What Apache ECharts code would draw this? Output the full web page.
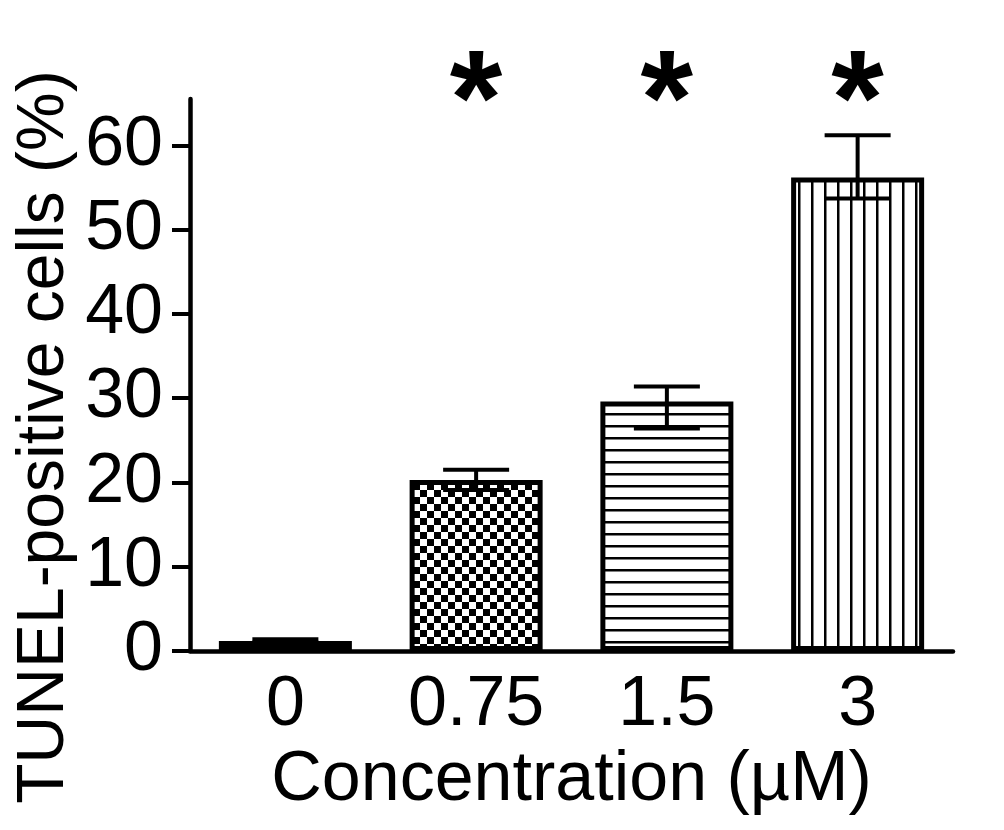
<!DOCTYPE html>
<html>
<head>
<meta charset="utf-8">
<script src="https://cdn.jsdelivr.net/npm/echarts@6/dist/echarts.min.js"></script>
<style>
html,body{margin:0;padding:0;background:#fff;}
#chart{width:1004px;height:830px;}
</style>
</head>
<body>
<div id="chart"></div>
<script>
// ---- data ----
const categories = ['0', '0.75', '1.5', '3'];
const means      = [1.2, 20.3, 29.6, 56.2];
const errLow     = [1.0, 19.1, 26.4, 53.7];
const errHigh    = [1.4, 21.5, 31.4, 61.2];
const marks      = ['', '*', '*', '*'];
const yTicks     = [0, 10, 20, 30, 40, 50, 60];
const yMax = 65.5;

// ---- fill patterns ----
function makePattern(kind) {
  const c = document.createElement('canvas');
  const ctx = c.getContext('2d');
  if (kind === 'checker') {
    c.width = 14; c.height = 14;
    ctx.fillStyle = '#fff'; ctx.fillRect(0, 0, 14, 14);
    ctx.fillStyle = '#000';
    ctx.fillRect(0, 0, 7, 7); ctx.fillRect(7, 7, 7, 7);
  } else if (kind === 'hlines') {
    c.width = 12; c.height = 12;
    ctx.fillStyle = '#fff'; ctx.fillRect(0, 0, 12, 12);
    ctx.fillStyle = '#000'; ctx.fillRect(0, 5, 12, 2.5);
  } else if (kind === 'vlines') {
    c.width = 13; c.height = 13;
    ctx.fillStyle = '#fff'; ctx.fillRect(0, 0, 13, 13);
    ctx.fillStyle = '#000'; ctx.fillRect(5, 0, 2.5, 13);
  } else {
    c.width = 20; c.height = 8;
    ctx.fillStyle = '#fff'; ctx.fillRect(0, 0, 20, 8);
    ctx.fillStyle = '#888'; ctx.fillRect(2, 3, 12, 2);
  }
  return { image: c, repeat: 'repeat' };
}
const patterns = [makePattern('dash'), makePattern('checker'), makePattern('hlines'), makePattern('vlines')];

const FONT = 'Liberation Sans, Arial, sans-serif';
const chart = echarts.init(document.getElementById('chart'), null, { renderer: 'canvas' });

chart.setOption({
  backgroundColor: '#fff',
  animation: false,
  grid: { left: 190, right: 51, top: 99, bottom: 179, containLabel: false },
  xAxis: {
    type: 'category',
    data: categories,
    boundaryGap: true,
    name: 'Concentration (µM)',
    nameLocation: 'middle',
    nameGap: 82,
    nameTextStyle: { fontFamily: FONT, fontSize: 70, color: '#000' },
    axisLine: { lineStyle: { color: '#000', width: 4.5 } },
    axisTick: { alignWithLabel: true, length: 18, lineStyle: { color: '#000', width: 4 } },
    axisLabel: { fontFamily: FONT, fontSize: 70, color: '#000', margin: 20 }
  },
  yAxis: {
    type: 'value',
    min: 0,
    max: yMax,
    splitLine: { show: false },
    axisLine: { show: true, lineStyle: { color: '#000', width: 4.5 } },
    axisTick: { show: true, length: 18, customValues: yTicks, lineStyle: { color: '#000', width: 4 } },
    axisLabel: { fontFamily: FONT, fontSize: 70, color: '#000', margin: 27, customValues: yTicks }
  },
  graphic: [{
    type: 'text',
    x: 45, y: 437,
    rotation: Math.PI / 2,
    style: {
      text: 'TUNEL-positive cells (%)',
      font: '66px ' + FONT,
      fill: '#000',
      align: 'center',
      verticalAlign: 'middle'
    }
  }],
  series: [
    {
      type: 'bar',
      barWidth: 133,
      data: means.map((v, i) => ({
        value: v,
        itemStyle: { color: patterns[i], borderColor: '#000', borderWidth: 5 }
      })),
      z: 2
    },
    {
      type: 'custom',
      clip: false,
      z: 5,
      data: categories.map((c, i) => [i, errLow[i], errHigh[i]]),
      renderItem: function (params, api) {
        const i = api.value(0);
        const lo = api.coord([i, api.value(1)]);
        const hi = api.coord([i, api.value(2)]);
        const top = api.coord([i, yMax]);
        const half = 33;
        const ls = { stroke: '#000', lineWidth: 4 };
        const children = [
          { type: 'line', shape: { x1: hi[0], y1: hi[1], x2: lo[0], y2: lo[1] }, style: ls },
          { type: 'line', shape: { x1: hi[0] - half, y1: hi[1], x2: hi[0] + half, y2: hi[1] }, style: ls },
          { type: 'line', shape: { x1: lo[0] - half, y1: lo[1], x2: lo[0] + half, y2: lo[1] }, style: ls }
        ];
        if (marks[i]) {
          children.push({
            type: 'text',
            x: top[0], y: top[1] + 8,
            style: { text: marks[i], font: 'bold 135px ' + FONT, fill: '#000', align: 'center', verticalAlign: 'middle' }
          });
        }
        return { type: 'group', children: children };
      }
    }
  ]
});
</script>
</body>
</html>
